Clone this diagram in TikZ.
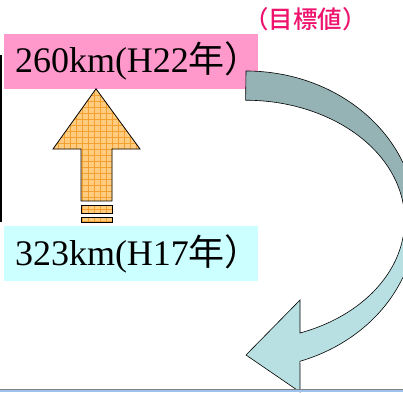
\documentclass[tikz,border=0pt]{standalone}
\usepackage{fontspec}
\setmainfont{Liberation Serif}
\newfontfamily\jpfont{Noto Sans CJK JP}
\newfontfamily\jpmedium{Noto Sans CJK JP Medium}
\usepackage{tikz}
\usetikzlibrary{positioning}

\definecolor{goalpink}{HTML}{FF99CC}
\definecolor{nowcyan}{HTML}{CCFFFF}
\definecolor{notepink}{RGB}{238,20,110}
\definecolor{upfill}{HTML}{FFCC80}
\definecolor{upgrid}{HTML}{F4A030}
\definecolor{benddark}{HTML}{95B2B4}
\definecolor{bendlight}{HTML}{B8DFE1}
\definecolor{barblue}{HTML}{9DC3EE}

\tikzset{
  kmbox/.style={minimum width=254pt, minimum height=55pt, inner xsep=11pt,
    inner ysep=0pt, text width=232pt, align=left,
    font=\fontsize{36}{40}\selectfont},
  uparrow/.style={draw=black, line width=0.8pt, fill=upfill,
    path picture={\draw[upgrid, line width=0.4pt, shift={(3.7,3.3)}]
      (40,150) grid[step=6] (150,310);}},
  bendarrow/.style={draw=black, line width=0.6pt,
    path picture={\fill[benddark] (200,177) rectangle (430,340);
      \fill[bendlight] (200,-10) rectangle (430,177);}}
}

\begin{document}
\begin{tikzpicture}[x=1pt,y=1pt]
    \useasboundingbox (0,0) rectangle (403,392);
    \node[kmbox, fill=nowcyan] (h17) at (131,138.5) {323km(H17{\jpfont 年）}};
    \node[kmbox, fill=goalpink] (h22) [above=137pt of h17] {260km(H22{\jpfont 年）}};
    \node[anchor=west, inner sep=0pt, text=notepink,
      font=\jpmedium\fontsize{24.5}{26}\selectfont] (target) at (244,373) {（目標値）};
    % left edge line
    \draw[line width=1.5pt] (0.75,337) -- (0.75,170);
    % up arrow
    \path[uparrow] (h22.south -| 96,0) -- (140,243) -- (112,243) -- (112,191)
      -- (81,191) -- (81,243) -- (53,243) -- cycle;
    \path[uparrow] (81,179) rectangle (112,187);
    \path[uparrow] (81,170) rectangle (112,175);
    % curved arrow
    \path[bendarrow] (246,321) arc[start angle=90, end angle=-71.5, x radius=170, y radius=149]
      -- (300,0) -- (246,37) -- (300,92) -- (300,59)
      arc[start angle=-70, end angle=90, x radius=159, y radius=120] -- cycle;
    % bottom bar
    \fill[barblue] (0,0) rectangle (403,2.2);
    \draw[gray, line width=0.6pt] (0,2.5) -- (403,2.5);
\end{tikzpicture}
\end{document}
